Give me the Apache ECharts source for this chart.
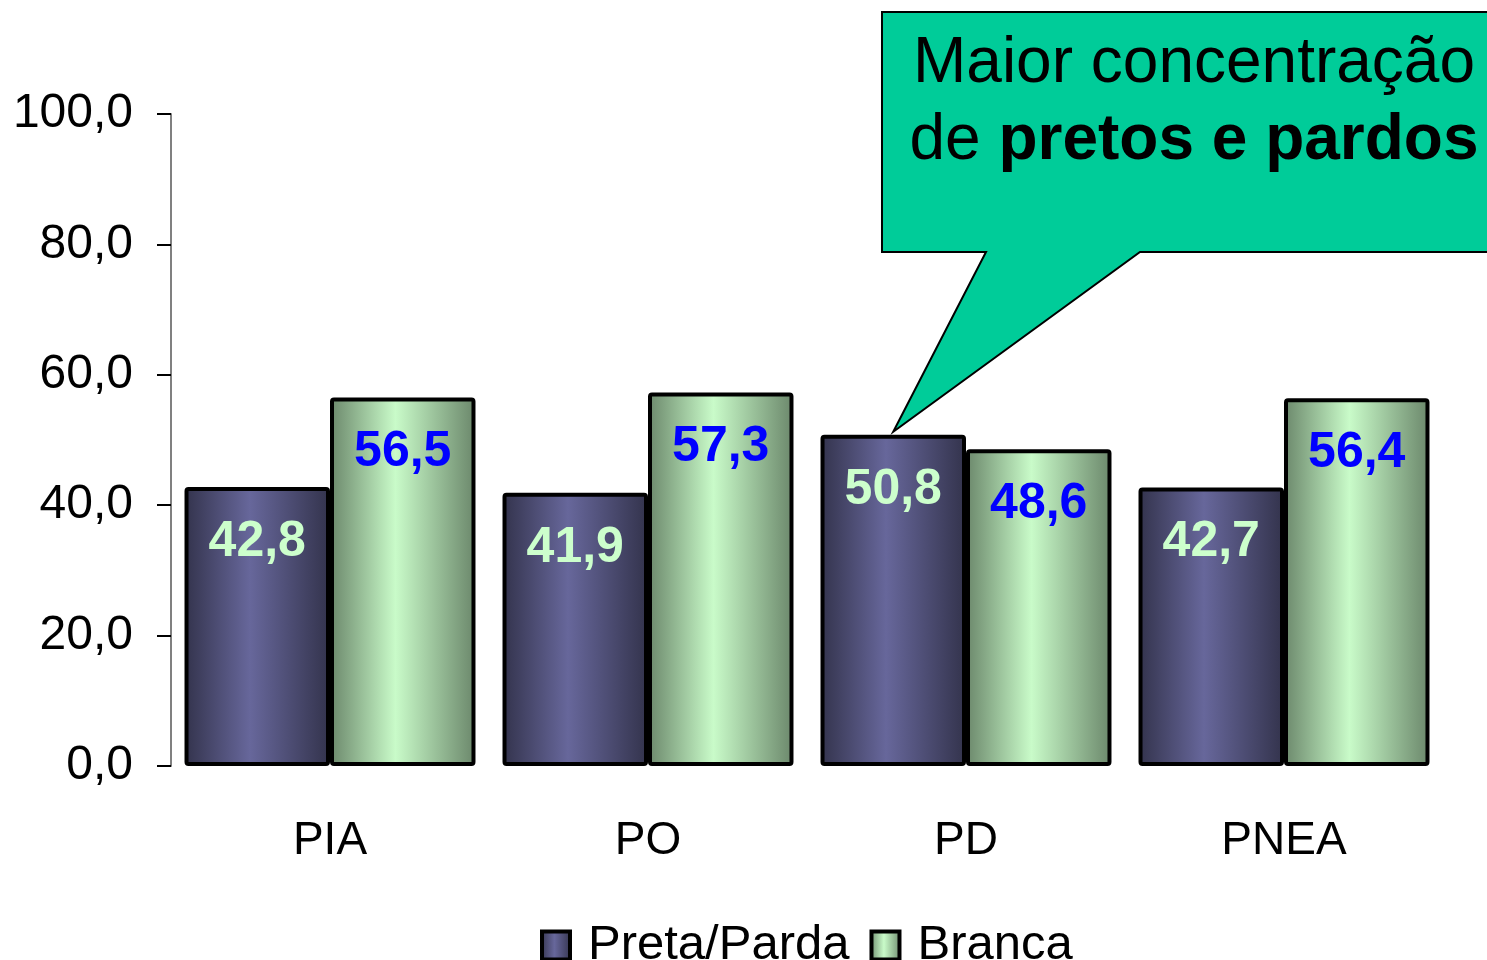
<!DOCTYPE html>
<html>
<head>
<meta charset="utf-8">
<script src="https://cdn.jsdelivr.net/npm/echarts@6/dist/echarts.min.js"></script>
<style>
  html, body { margin: 0; padding: 0; background: #fff; }
  #chart { width: 1487px; height: 960px; }
</style>
</head>
<body>
<div id="chart"></div>
<script>
const categories = ['PIA', 'PO', 'PD', 'PNEA'];
const pretaParda = [42.8, 41.9, 50.8, 42.7];
const branca = [56.5, 57.3, 48.6, 56.4];
const seriesNames = ['Preta/Parda', 'Branca'];
const yTicks = [0, 20, 40, 60, 80, 100];

const FONT = '"Liberation Sans", Arial, sans-serif';
const fmt = v => v.toFixed(1).replace('.', ',');
const CAT_GAP = 0.085;

function barGradient(edge, mid) {
  return new echarts.graphic.LinearGradient(0, 0, 1, 0, [
    { offset: 0, color: edge },
    { offset: 0.45, color: mid },
    { offset: 1, color: edge }
  ]);
}

const chart = echarts.init(document.getElementById('chart'));

const option = {
  animation: false,
  textStyle: { fontFamily: FONT },
  grid: { left: 171, right: 44, top: 114, bottom: 194 },
  legend: {
    top: 916,
    left: 535,
    icon: 'rect',
    itemWidth: 28,
    itemHeight: 28,
    itemGap: 20,
    data: seriesNames,
    itemStyle: { borderColor: '#000', borderWidth: 4 },
    textStyle: { fontSize: 49, color: '#000', fontFamily: FONT, padding: [0, 0, 0, 13] }
  },
  xAxis: {
    type: 'category',
    data: categories,
    axisLine: { show: false },
    axisTick: { show: false },
    axisLabel: { fontSize: 46, color: '#000', margin: 52, fontFamily: FONT }
  },
  yAxis: {
    type: 'value',
    min: yTicks[0],
    max: yTicks[yTicks.length - 1],
    interval: 20,
    splitLine: { show: false },
    axisLine: { show: true, lineStyle: { color: '#808080', width: 2 } },
    axisTick: { show: true, length: 14, lineStyle: { color: '#000', width: 2 } },
    axisLabel: { fontSize: 48, color: '#000', margin: 38, fontFamily: FONT, formatter: v => fmt(v) }
  },
  series: [
    {
      name: seriesNames[0],
      type: 'bar',
      data: pretaParda,
      barGap: '0%',
      barCategoryGap: (CAT_GAP * 100) + '%',
      itemStyle: {
        color: barGradient('#33334c', '#67679b'),
        borderColor: '#000',
        borderWidth: 4,
        borderRadius: 2
      },
      label: {
        show: true,
        position: 'insideTop',
        distance: 30,
        formatter: p => fmt(p.value),
        color: '#ccffcc',
        fontSize: 50,
        fontWeight: 'bold',
        fontFamily: FONT
      }
    },
    {
      name: seriesNames[1],
      type: 'bar',
      data: branca,
      itemStyle: {
        color: barGradient('#6b876b', '#c9fbc9'),
        borderColor: '#000',
        borderWidth: 4,
        borderRadius: 2
      },
      label: {
        show: true,
        position: 'insideTop',
        distance: 30,
        formatter: p => fmt(p.value),
        color: '#0000ff',
        fontSize: 50,
        fontWeight: 'bold',
        fontFamily: FONT
      }
    }
  ]
};

chart.setOption(option);

// callout pointing at the top of the PD Preta/Parda bar
const tip = chart.convertToPixel({ seriesIndex: 0 }, ['PD', pretaParda[2]]);
const band = chart.getModel().getComponent('xAxis').axis.getBandWidth();
const tipX = tip[0] - band * (1 - CAT_GAP) / 4;
const tipY = tip[1] - 3;
chart.setOption({
  graphic: [
    {
      type: 'polygon',
      shape: {
        points: [
          [882, 12], [1490, 12], [1490, 252], [1140, 252],
          [tipX, tipY], [986, 252], [882, 252]
        ]
      },
      style: { fill: '#00cc99', stroke: '#000', lineWidth: 2 },
      z: 100
    },
    {
      type: 'text',
      x: 1194,
      y: 64,
      style: {
        text: 'Maior concentração',
        font: '64px ' + FONT,
        fill: '#000',
        align: 'center',
        verticalAlign: 'middle'
      },
      z: 101
    },
    {
      type: 'text',
      x: 1194,
      y: 141,
      style: {
        text: 'de {b|pretos e pardos}',
        font: '64px ' + FONT,
        fill: '#000',
        align: 'center',
        verticalAlign: 'middle',
        rich: {
          b: { fontFamily: FONT, fontSize: 64, fontWeight: 'bold', fill: '#000' }
        }
      },
      z: 101
    }
  ]
});
</script>
</body>
</html>
